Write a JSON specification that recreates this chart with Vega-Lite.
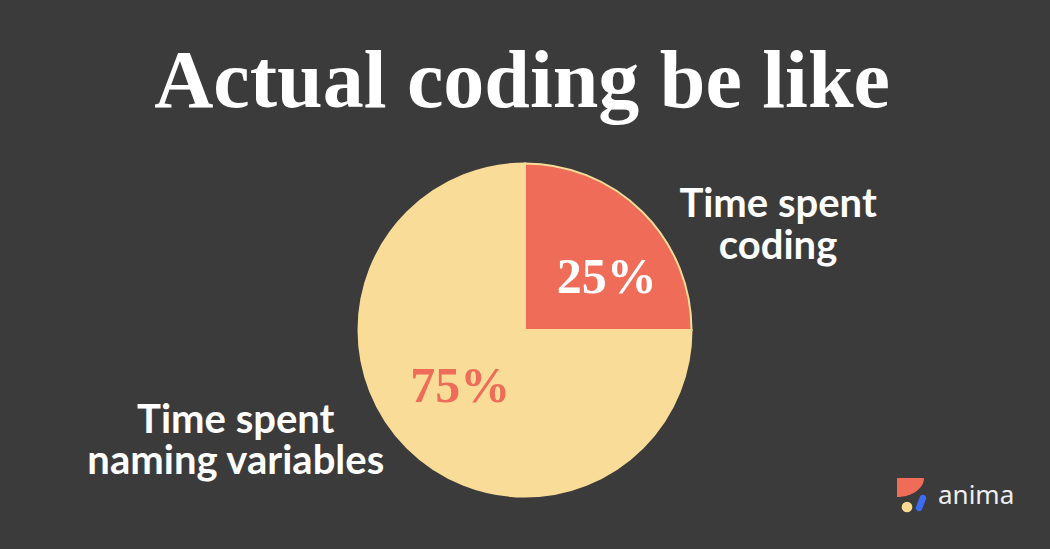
{
  "$schema": "https://vega.github.io/schema/vega-lite/v6.json",
  "width": 1050,
  "height": 549,
  "autosize": "none",
  "padding": 0,
  "background": "#3b3b3b",
  "config": {"view": {"stroke": null}},
  "title": {
    "text": "Actual coding be like",
    "frame": "group",
    "anchor": "middle",
    "orient": "top",
    "offset": -189,
    "dx": -3,
    "baseline": "alphabetic",
    "font": "Liberation Serif",
    "fontSize": 82,
    "fontWeight": "bold",
    "color": "#ffffff"
  },
  "layer": [
    {
      "data": {"name": "slices", "values": [
        {"category": "Time spent coding", "share": 25, "pct": "25%", "label": ["Time spent", "coding"]},
        {"category": "Time spent naming variables", "share": 75, "pct": "75%", "label": ["Time spent", "naming variables"]}
      ]},
      "layer": [
        {
          "mark": {"type": "arc", "outerRadius": 166.5, "yOffset": 55.5, "stroke": "#f9dc97", "strokeWidth": 2},
          "encoding": {
            "theta": {"field": "share", "type": "quantitative", "stack": true},
            "color": {"field": "category", "type": "nominal", "legend": null,
              "scale": {"domain": ["Time spent coding", "Time spent naming variables"], "range": ["#ee6c58", "#f9dc97"]}}
          }
        },
        {
          "mark": {"type": "text", "radius": 100, "dx": 11, "dy": 89, "align": "center", "baseline": "alphabetic",
            "font": "Liberation Serif", "fontSize": 50, "fontWeight": "bold", "fill": "#ffffff"},
          "encoding": {
            "theta": {"field": "share", "type": "quantitative", "stack": true},
            "text": {"condition": {"test": "datum.share == 25", "field": "pct"}, "value": ""}
          }
        },
        {
          "mark": {"type": "text", "radius": 90, "dx": -1, "dy": 64, "align": "center", "baseline": "alphabetic",
            "font": "Liberation Serif", "fontSize": 50, "fontWeight": "bold", "fill": "#ee6c58"},
          "encoding": {
            "theta": {"field": "share", "type": "quantitative", "stack": true},
            "text": {"condition": {"test": "datum.share == 75", "field": "pct"}, "value": ""}
          }
        },
        {
          "mark": {"type": "text", "radius": 150, "dx": 147, "dy": 49, "align": "center", "baseline": "alphabetic",
            "font": "Lato", "fontSize": 40, "fontWeight": "bold", "fill": "#ffffff", "lineHeight": 42},
          "encoding": {
            "theta": {"field": "share", "type": "quantitative", "stack": true},
            "text": {"condition": {"test": "datum.share == 25", "field": "label"}, "value": ""}
          }
        },
        {
          "mark": {"type": "text", "radius": 170, "dx": -169, "dy": 38, "align": "center", "baseline": "alphabetic",
            "font": "Lato", "fontSize": 40, "fontWeight": "bold", "fill": "#ffffff", "lineHeight": 41},
          "encoding": {
            "theta": {"field": "share", "type": "quantitative", "stack": true},
            "text": {"condition": {"test": "datum.share == 75", "field": "label"}, "value": ""}
          }
        }
      ]
    },
    {
      "data": {"values": [{"brand": "anima"}]},
      "layer": [
        {
          "mark": {"type": "text", "dx": 413, "dy": 229.5, "align": "left", "baseline": "alphabetic",
            "font": "Noto Sans", "fontSize": 26, "fill": "#eeeeee"},
          "encoding": {"text": {"field": "brand"}}
        },
        {
          "mark": {"type": "point", "shape": "M-1,-1L1,-1A2,1.407 0 0 1 -1,0.407Z", "size": 729, "filled": true,
            "fill": "#ee6c58", "strokeWidth": 0, "opacity": 1, "xOffset": 385.5, "yOffset": 217},
          "encoding": {}
        },
        {
          "mark": {"type": "point", "shape": "circle", "size": 113, "filled": true,
            "fill": "#fbd98f", "strokeWidth": 0, "opacity": 1, "xOffset": 382, "yOffset": 232.5},
          "encoding": {}
        },
        {
          "mark": {"type": "point", "shape": "M0.372,-0.994L-0.372,0.994", "size": 100, "filled": false,
            "stroke": "#3d6bf4", "strokeWidth": 6.5, "strokeCap": "round", "opacity": 1, "xOffset": 396, "yOffset": 228.5},
          "encoding": {}
        }
      ]
    }
  ]
}
